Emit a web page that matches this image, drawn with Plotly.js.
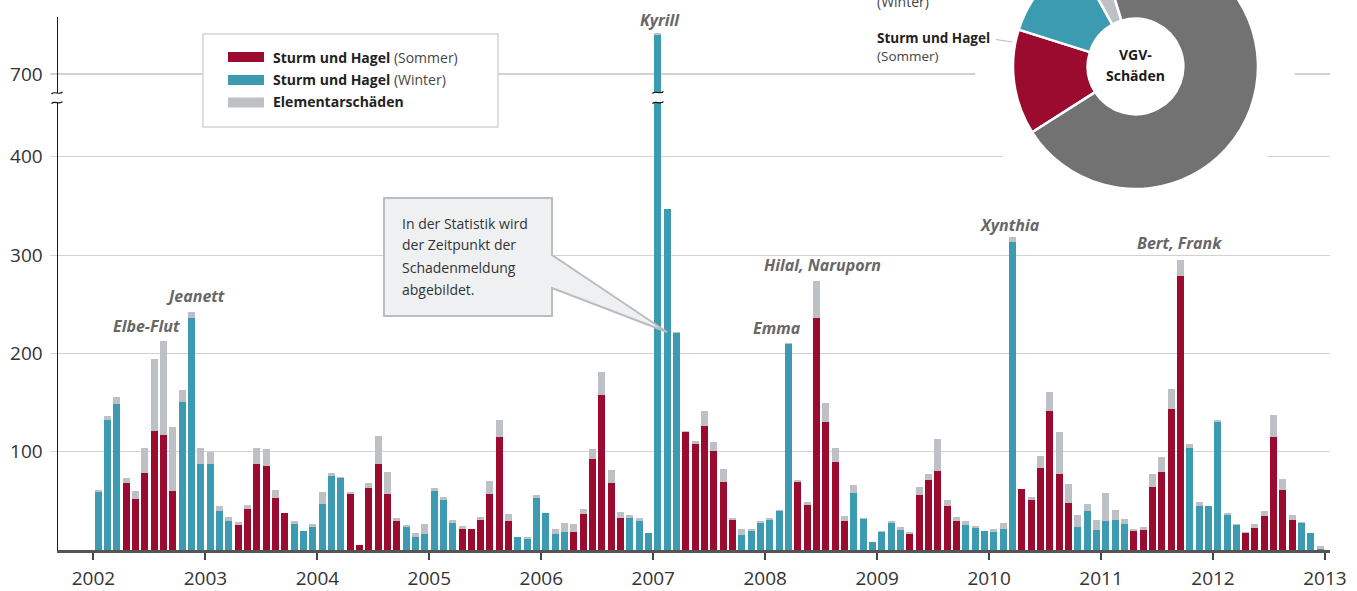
<!DOCTYPE html>
<html>
<head>
<meta charset="utf-8">
<script src="https://cdn.plot.ly/plotly-3.0.1.min.js"></script>
<style>
html,body{margin:0;padding:0;overflow:hidden;background:#fff;}
#wrap{position:relative;width:1357px;height:591px;overflow:hidden;}
#chart{position:absolute;left:0;top:0;width:1357px;height:591px;}
#pie{position:absolute;left:1012.5px;top:-56px;width:245px;height:245px;}
</style>
</head>
<body>
<div id="wrap"><div id="chart"></div><div id="pie"></div></div>
<script>
// ---- data (monthly VGV claims, Jan 2002 - Dec 2012) ----
const years = [2002,2003,2004,2005,2006,2007,2008,2009,2010,2011,2012];
const yearTicks = [2002,2003,2004,2005,2006,2007,2008,2009,2010,2011,2012,2013];
const sommer = [
  0,0,0,68,52,78,121,117,60,0,0,0,     // 2002
  0,0,0,25,42,87,85,53,38,0,0,0,       // 2003
  0,0,0,57,5,63,88,57,29,0,0,0,        // 2004
  0,0,0,21,21,31,57,115,30,0,0,0,      // 2005
  0,0,0,18,37,93,158,68,33,0,0,0,      // 2006
  0,0,0,120,108,126,101,69,31,0,0,0,   // 2007
  0,0,0,69,46,236,130,90,29,0,0,0,     // 2008
  0,0,0,16,56,71,80,45,30,0,0,0,       // 2009
  0,0,0,62,51,83,141,77,48,0,0,0,      // 2010
  0,0,0,19,20,64,79,143,279,0,0,0,     // 2011
  0,0,0,17,22,35,115,61,31,0,0,0       // 2012
];
const winter = [
  59,132,149,0,0,0,0,0,0,151,236,87,   // 2002
  88,40,29,0,0,0,0,0,0,26,19,23,       // 2003
  47,75,73,0,0,0,0,0,0,23,13,16,       // 2004
  60,51,27,0,0,0,0,0,0,13,11,53,       // 2005
  38,16,18,0,0,0,0,0,0,33,30,17,       // 2006
  740,347,221,0,0,0,0,0,0,15,19,27,    // 2007
  31,40,210,0,0,0,0,0,0,58,32,8,       // 2008
  18,27,20,0,0,0,0,0,0,25,22,19,       // 2009
  18,21,313,0,0,0,0,0,0,23,40,20,      // 2010
  29,31,26,0,0,0,0,0,0,104,45,45,      // 2011
  130,36,25,0,0,0,0,0,0,27,17,1.5      // 2012
];
const elementar = [
  2.5,4,7,5,8,26,73,96,65,12,6,17,     // 2002
  12,5,5,3,4,17,18,8,0,4,0,3,          // 2003
  12,3,1,2,0,5,28,22,4,2,4,10,         // 2004
  3,3,4,3,0.5,3,13,17,7,0,2,3,         // 2005
  0,5,9,8,5,10,23,13,6,3,3,0,          // 2006
  2,0,1,1,3,15,9,13,2,6,2,3,           // 2007
  2,1,1,2,3,38,20,14,6,8,1,0,          // 2008
  1,2,3,2,8,6,33,6,4,4,2,0,            // 2009
  3,6,5,0,3,13,20,43,19,13,7,11,       // 2010
  29,10,6,2,3,13,16,21,16,4,4,0,       // 2011
  2,2,1,1,4,5,22,11,5,1,0,3            // 2012
];
const seriesNames = ['Sturm und Hagel (Sommer)','Sturm und Hagel (Winter)','Elementarschäden'];
const pieLabels = ['Sturm und Hagel (Sommer)','Sturm und Hagel (Winter)','Elementarschäden','Übrige Schäden'];
const pieValues = [13.9, 12.1, 3.3, 70.7];
const storms = [
  {name:'Elbe-Flut', month:'2002-08'},
  {name:'Jeanett', month:'2002-11'},
  {name:'Kyrill', month:'2007-01'},
  {name:'Emma', month:'2008-03'},
  {name:'Hilal, Naruporn', month:'2008-06'},
  {name:'Xynthia', month:'2010-03'},
  {name:'Bert, Frank', month:'2011-09'}
];

// month centres on a decimal-year axis
const monthX = [];
years.forEach(y => { for (let m = 0; m < 12; m++) monthX.push(y + (m + 0.5) / 12); });

const C_RED = '#9b0b2f', C_TEAL = '#3c9bb0', C_LGREY = '#bdc0c4', C_DGREY = '#727272';
const FONT = 'Open Sans, Noto Sans, sans-serif';

// ---- geometry helpers ----
const W = 1357, H = 591, ML = 58, MR = 27, MT = 17, MB = 41;
const PW = W - ML - MR, PH = H - MT - MB;
const X0 = 2001.683, X1 = 2013.045;
const px = x => (x - ML) / PW;
const py = y => (H - MB - y) / PH;
const K = 0.983; // px per unit
const lowTopPx = 102.6, upBotPx = 93, sevenPx = 74;
const lowRange = [0, (H - MB - lowTopPx) / K];
const upRange = [700 - (upBotPx - sevenPx) / K, 700 + (sevenPx - MT) / K];

function mkTraces(yax) {
  const cols = [C_RED, C_TEAL, C_LGREY];
  return [sommer, winter, elementar].map((vals, i) => ({
    type: 'bar', x: monthX, y: vals, name: seriesNames[i], yaxis: yax, xaxis: 'x',
    marker: {color: cols[i], line: {width: 0}}, hoverinfo: 'skip', showlegend: false
  }));
}
const traces = mkTraces('y').concat(mkTraces('y2'));

function pathOf(pts, close) {
  return 'M ' + pts.map(p => px(p[0]) + ',' + py(p[1])).join(' L ') + (close ? ' Z' : '');
}
function tilde(cx, cy) {
  const p = (dx, dy) => px(cx + dx) + ',' + py(cy + dy);
  return 'M ' + p(-5.5, 1) + ' C ' + p(-2.5, -2.5) + ' ' + p(2.5, 2.5) + ' ' + p(5.5, -1);
}
const xToPx = x => ML + (x - X0) / (X1 - X0) * PW;
const kyrillPx = xToPx(monthX[60]);

const shapes = [
  // white mask behind pie
  {type:'circle', xref:'paper', yref:'paper', x0:px(975), x1:px(1295), y0:py(66.5+160), y1:py(66.5-160),
   fillcolor:'#ffffff', line:{width:0}, layer:'above'},
  // legend box
  {type:'rect', xref:'paper', yref:'paper', x0:px(203), x1:px(498), y0:py(127), y1:py(34),
   fillcolor:'#ffffff', line:{color:'#d3d3d3', width:1.5}, layer:'above'},
  {type:'rect', xref:'paper', yref:'paper', x0:px(228), x1:px(264), y0:py(62), y1:py(52), fillcolor:C_RED, line:{width:0}, layer:'above'},
  {type:'rect', xref:'paper', yref:'paper', x0:px(228), x1:px(264), y0:py(85), y1:py(75), fillcolor:C_TEAL, line:{width:0}, layer:'above'},
  {type:'rect', xref:'paper', yref:'paper', x0:px(228), x1:px(264), y0:py(107.5), y1:py(97.5), fillcolor:C_LGREY, line:{width:0}, layer:'above'},
  // callout
  {type:'path', xref:'paper', yref:'paper', layer:'above',
   path: pathOf([[384,198],[552,198],[552,255],[667,332],[552,288],[552,316],[384,316]], true),
   fillcolor:'#eff0f2', line:{color:'#b9bdc1', width:2}},
  // axis break marks
  {type:'path', xref:'paper', yref:'paper', layer:'above', path: tilde(57, upBotPx), line:{color:'#111', width:1.2}},
  {type:'path', xref:'paper', yref:'paper', layer:'above', path: tilde(57, lowTopPx), line:{color:'#111', width:1.2}},
  {type:'path', xref:'paper', yref:'paper', layer:'above', path: tilde(kyrillPx, upBotPx - 0.5), line:{color:'#111', width:1.2}},
  {type:'path', xref:'paper', yref:'paper', layer:'above', path: tilde(kyrillPx, lowTopPx), line:{color:'#111', width:1.2}},
  // pie leader line
  {type:'line', xref:'paper', yref:'paper', layer:'above', x0:px(996), y0:py(39.5), x1:px(1012), y1:py(42), line:{color:'#bbbbbb', width:1}}
];

const ann = [];
function addText(text, x, y, opt) {
  ann.push(Object.assign({text: text, xref:'paper', yref:'paper', x: px(x), y: py(y), showarrow:false,
    xanchor:'left', yanchor:'middle', align:'left', font:{family:FONT, size:14, color:'#222'}}, opt || {}));
}
// legend text
addText('<b>Sturm und Hagel</b> <span style="color:#444">(Sommer)</span>', 271, 57);
addText('<b>Sturm und Hagel</b> <span style="color:#444">(Winter)</span>', 271, 79.5);
addText('<b>Elementarschäden</b>', 271, 102);
// callout text
const callout = ['In der Statistik wird', 'der Zeitpunkt der', 'Schadenmeldung', 'abgebildet.'];
callout.forEach((t, i) => addText(t, 400, 223 + i * 22, {font:{family:FONT, size:14, color:'#333'}}));
// pie labels
addText('<span style="color:#444">(Winter)</span>', 875, 1);
addText('<b>Sturm und Hagel</b><br><span style="color:#444">(Sommer)</span>', 875, 47.5, {font:{family:FONT, size:13.5, color:'#222'}});
// storm names
const stormPos = {'Elbe-Flut':[146,326], 'Jeanett':[195,296], 'Kyrill':[660,20], 'Emma':[777,328],
  'Hilal, Naruporn':[823,265], 'Xynthia':[1010,225], 'Bert, Frank':[1179,243]};
storms.forEach(s => {
  const p = stormPos[s.name];
  addText('<b><i>' + s.name + '</i></b>', p[0], p[1], {xanchor:'center', align:'center', font:{family:FONT, size:16, color:'#676767'}});
});

const yCommon = {
  showgrid:true, gridcolor:'#d2d2d2', gridwidth:1.2, zeroline:false,
  showline:true, linecolor:'#1a1a1a', linewidth:1.5,
  ticks:'outside', ticklen:7, tickcolor:'#d2d2d2', tickwidth:1.2, ticklabelstandoff:3,
  tickfont:{family:FONT, size:19, color:'#333'}, fixedrange:true
};

const layout = {
  width: W, height: H,
  margin: {l: ML, r: MR, t: MT, b: MB},
  paper_bgcolor: '#ffffff', plot_bgcolor: '#ffffff',
  barmode: 'stack', bargap: 0.25, showlegend: false,
  xaxis: {range:[X0, X1], tickvals: yearTicks, ticktext: yearTicks.map(String),
    showgrid:false, zeroline:false, showline:true, linecolor:'#555', linewidth:2.5,
    ticks:'outside', ticklen:7, tickwidth:2, tickcolor:'#444', ticklabelstandoff:3,
    tickfont:{family:FONT, size:19, color:'#333'}, anchor:'y', fixedrange:true},
  yaxis: Object.assign({}, yCommon, {domain:[0, py(lowTopPx)], range: lowRange, tickvals:[100,200,300,400], anchor:'x'}),
  yaxis2: Object.assign({}, yCommon, {domain:[py(upBotPx), 1], range: upRange, tickvals:[700], anchor:'x'}),
  shapes: shapes,
  annotations: ann
};

Plotly.newPlot('chart', traces, layout, {staticPlot:true, displayModeBar:false});

// donut (positioned so that its centre sits at (1135, 66.5) of the page)
Plotly.newPlot('pie', [{
  type:'pie', labels: pieLabels, values: pieValues, sort:false, direction:'clockwise', rotation:237.5,
  hole:0.39, textinfo:'none', hoverinfo:'skip',
  marker:{colors:[C_RED, C_TEAL, C_LGREY, C_DGREY], line:{color:'#ffffff', width:2.5}},
  domain:{x:[0,1], y:[0,1]}
}], {
  width:245, height:245, margin:{l:0,r:0,t:0,b:0}, showlegend:false,
  paper_bgcolor:'rgba(0,0,0,0)', plot_bgcolor:'rgba(0,0,0,0)',
  annotations:[
    {text:'<b>VGV-</b>', x:0.5, y:0.5 + 12.5/245, xref:'paper', yref:'paper', showarrow:false, xanchor:'center', yanchor:'middle', font:{family:FONT, size:14, color:'#1a1a1a'}},
    {text:'<b>Schäden</b>', x:0.5, y:0.5 - 8.5/245, xref:'paper', yref:'paper', showarrow:false, xanchor:'center', yanchor:'middle', font:{family:FONT, size:14, color:'#1a1a1a'}}
  ]
}, {staticPlot:true, displayModeBar:false});
</script>
</body>
</html>
